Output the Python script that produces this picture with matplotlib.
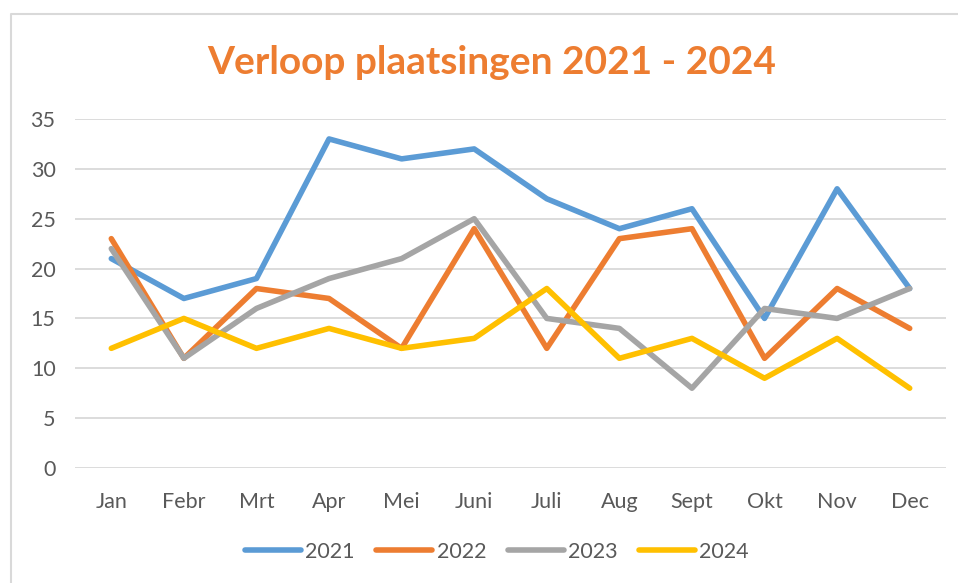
import matplotlib
matplotlib.use("Agg")
import matplotlib.pyplot as plt
from matplotlib.lines import Line2D

months = ["Jan", "Febr", "Mrt", "Apr", "Mei", "Juni", "Juli", "Aug", "Sept", "Okt", "Nov", "Dec"]
y2021 = [21, 17, 19, 33, 31, 32, 27, 24, 26, 15, 28, 18]
y2022 = [23, 11, 18, 17, 12, 24, 12, 23, 24, 11, 18, 14]
y2023 = [22, 11, 16, 19, 21, 25, 15, 14, 8, 16, 15, 18]
y2024 = [12, 15, 12, 14, 12, 13, 18, 11, 13, 9, 13, 8]
series_labels = ["2021", "2022", "2023", "2024"]
colors = ["#5B9BD5", "#ED7D31", "#A5A5A5", "#FFC000"]

plt.rcParams['font.family'] = ['Lato', 'DejaVu Sans']

fig = plt.figure(figsize=(9.58, 5.83), dpi=100)
ax = fig.add_axes([75/958, 1-468/583, (946-75)/958, (468-119)/583])

x = list(range(len(months)))
for vals, lab, c in zip([y2021, y2022, y2023, y2024], series_labels, colors):
    ax.plot(x, vals, color=c, lw=4, solid_joinstyle='round', solid_capstyle='round', label=lab)

ax.set_xlim(-0.5, len(months) - 0.5)
ax.set_ylim(0, 35)
ax.set_yticks(range(0, 36, 5))
ax.set_xticks(x)
ax.set_xticklabels(months)
ax.yaxis.grid(True, color="#D9D9D9", lw=1.3)
ax.set_axisbelow(True)
for s in ax.spines.values():
    s.set_visible(False)
ax.tick_params(axis='both', length=0, labelsize=15.5, colors="#595959")
ax.tick_params(axis='x', pad=17)
ax.tick_params(axis='y', pad=14)

fig.text(492/958, 1-62/583, "Verloop plaatsingen 2021 - 2024", ha='center', va='center',
         fontsize=28, fontweight='bold', color="#ED7D31")

handles = [Line2D([0], [0], color=c, lw=4, solid_capstyle='round') for c in colors]
fig.legend(handles, series_labels, loc='center', bbox_to_anchor=(497/958, 1-552/583),
           ncol=4, frameon=False, fontsize=15.5, handlelength=2.6, handletextpad=0.2,
           columnspacing=1.0, labelcolor="#595959")

# chart frame
fig.add_artist(Line2D([11/958, 11/958, 1.0], [0, 1-14/583, 1-14/583],
                      transform=fig.transFigure, color="#D9D9D9", lw=1.5))

fig.savefig("out.png", dpi=100, facecolor="white")
